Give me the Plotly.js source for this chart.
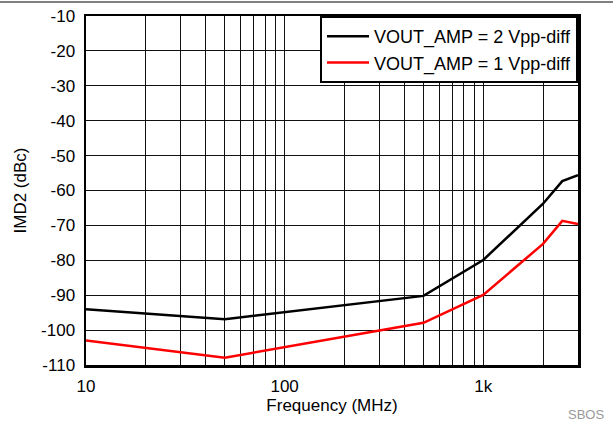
<!DOCTYPE html>
<html><head><meta charset="utf-8">
<script src="https://cdn.plot.ly/plotly-3.0.1.min.js"></script>
<style>html,body{margin:0;padding:0;background:#fff}#c{width:613px;height:422px}</style>
</head><body><div id="c"></div>
<script>
const freq = [10, 50, 500, 1000, 2000, 2500, 3000];
const imd2_2vpp = [-94, -96.9, -90.2, -79.9, -63.8, -57.3, -55.6];
const imd2_1vpp = [-103, -107.9, -97.9, -89.9, -75.3, -68.7, -69.6];
const seriesNames = ['VOUT_AMP = 2 Vpp-diff', 'VOUT_AMP = 1 Vpp-diff'];
const xTickVals = [10,20,30,40,50,60,70,80,90,100,200,300,400,500,600,700,800,900,1000,2000];
const xTickText = ['10','','','','','','','','','100','','','','','','','','','1k',''];
const yTickVals = [-110,-100,-90,-80,-70,-60,-50,-40,-30,-20,-10];
const yTickText = ['-110','-100','-90','-80','-70','-60','-50','-40','-30','-20','-10'];

const fam = 'Liberation Sans, Arial, sans-serif';
const font = {family: fam, size: 17, color: '#000'};
const traces = [
  {x: freq, y: imd2_2vpp, name: seriesNames[0], mode: 'lines', line: {color: '#000', width: 2.5}},
  {x: freq, y: imd2_1vpp, name: seriesNames[1], mode: 'lines', line: {color: '#ff0000', width: 2.5}}
];
const layout = {
  width: 613, height: 422,
  margin: {l: 86, r: 35, t: 16, b: 57},
  paper_bgcolor: '#fff', plot_bgcolor: '#fff',
  font: font,
  showlegend: true,
  legend: {x: 1, xanchor: 'right', y: 1, yanchor: 'top', bgcolor: '#fff', itemwidth: 42,
           bordercolor: '#000', borderwidth: 2, font: {family: fam, size: 18, color: '#000'}, tracegroupgap: 0},
  xaxis: {type: 'log', range: [1, Math.log10(3000)], tickmode: 'array',
          tickvals: xTickVals, ticktext: xTickText, ticks: '',
          showgrid: true, gridcolor: '#111', gridwidth: 1,
          showline: true, linecolor: '#000', linewidth: 2.5, mirror: true,
          zeroline: false, tickfont: font, ticklabelstandoff: 4, automargin: false,
          title: {text: 'Frequency (MHz)', font: font, standoff: 3}},
  yaxis: {range: [-110, -10], tickmode: 'array', tickvals: yTickVals, ticktext: yTickText, ticks: '',
          showgrid: true, gridcolor: '#111', gridwidth: 1,
          showline: true, linecolor: '#000', linewidth: 2.5, mirror: true,
          zeroline: false, tickfont: font, ticklabelstandoff: 5, automargin: false,
          title: {text: 'IMD2 (dBc)', font: font, standoff: 10}},
  shapes: [{type: 'line', xref: 'paper', yref: 'paper',
            x0: -86/492, x1: 527/492, y0: 1 + 14/349, y1: 1 + 14/349,
            line: {color: '#000', width: 1}}],
  annotations: [{text: 'SBOS', xref: 'paper', yref: 'paper', x: 520/492, xanchor: 'right',
                 y: -49/349, yanchor: 'middle', showarrow: false,
                 font: {family: fam, size: 13, color: '#999'}}]
};
Plotly.newPlot('c', traces, layout, {displayModeBar: false, staticPlot: true});
</script></body></html>
